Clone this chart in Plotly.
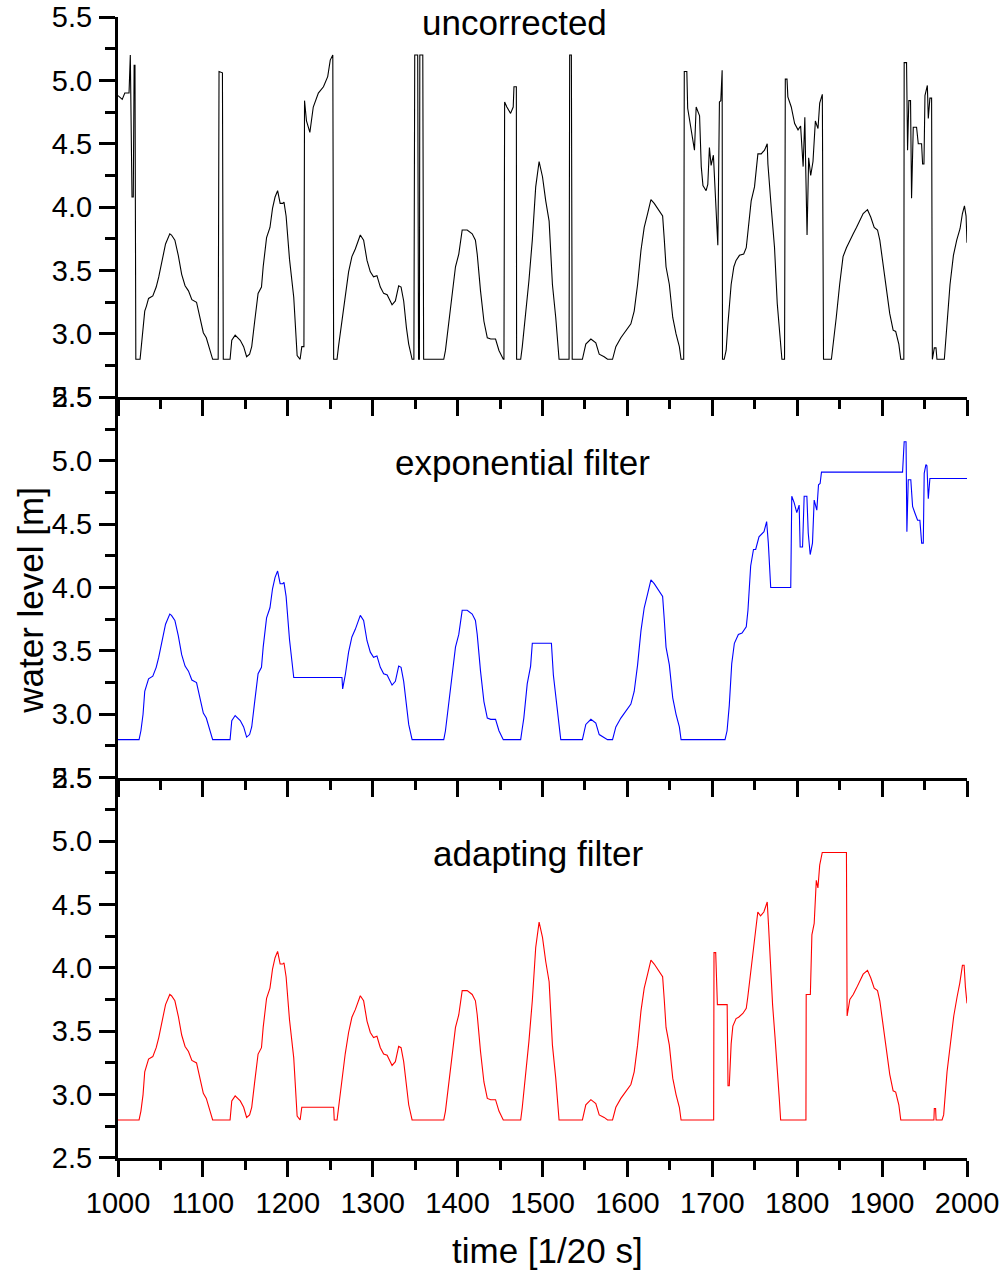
import plotly.graph_objects as go
from plotly.subplots import make_subplots

# ---------------- data ----------------
panel_titles = ["uncorrected", "exponential filter", "adapting filter"]
x_label = "time [1/20 s]"
y_label = "water level [m]"

x_unc = [
    1000, 1005, 1008, 1013, 1014.5, 1016.5, 1018, 1019, 1020, 1021,
    1026, 1027, 1029.5, 1031.5, 1033.5, 1036, 1041, 1045, 1048, 1053,
    1056, 1061, 1063, 1067, 1071, 1075, 1079, 1083, 1087, 1092.5,
    1096.5, 1100.5, 1104, 1107.5, 1111.5, 1118, 1119, 1123, 1124, 1132,
    1134, 1138, 1144, 1148, 1151.5, 1155, 1157.5, 1161, 1165, 1169,
    1171, 1175, 1179, 1182, 1185, 1188, 1191, 1194, 1195.5, 1198,
    1202, 1207, 1211, 1214.5, 1216.5, 1219, 1219.7, 1222, 1226, 1230,
    1236, 1242, 1247, 1250, 1253, 1254, 1258, 1259.7, 1263.7, 1267.6,
    1271.6, 1275.5, 1279.5, 1285.4, 1289.3, 1293.3, 1297.2, 1301, 1305, 1309,
    1312.9, 1317, 1322.8, 1326.7, 1330.6, 1333.4, 1336.5, 1339.7, 1342.4, 1346.4,
    1348.5, 1349.5, 1353, 1354, 1355, 1355.5, 1359, 1360, 1383.7, 1385.7,
    1389.6, 1393.6, 1397.5, 1401.4, 1405.4, 1411.3, 1417.2, 1421, 1423.1, 1427,
    1431, 1435, 1439, 1444.7, 1448.7, 1453.8, 1454.6, 1455.4, 1458, 1462.4,
    1465.5, 1466.4, 1469.2, 1469.5, 1474.3, 1476.2, 1480.2, 1484, 1488, 1492,
    1496, 1500, 1503.8, 1507.8, 1511.7, 1515.6, 1519.5, 1531.3, 1532, 1534,
    1535, 1547, 1551, 1557, 1562.8, 1566.8, 1572.6, 1576.6, 1582.5, 1586.4,
    1592.3, 1598.2, 1604.1, 1608, 1612, 1616, 1619.8, 1623.8, 1627.7, 1631.6,
    1637.5, 1641.5, 1643.5, 1645.5, 1649.4, 1653.4, 1657.3, 1661.2, 1663.2, 1666.3,
    1667, 1670, 1671, 1674.2, 1677, 1679, 1681, 1685, 1687, 1689,
    1692.7, 1694.7, 1696.6, 1698.6, 1701.3, 1703.3, 1706.5, 1708.4, 1710, 1711.6,
    1712, 1714, 1716.3, 1718.3, 1722.2, 1725.4, 1728, 1732, 1737, 1740,
    1741.9, 1745.8, 1749.7, 1753.7, 1757.6, 1761.5, 1764.7, 1765.5, 1769.4, 1773.3,
    1776.5, 1780.4, 1782, 1785.1, 1786, 1788, 1789, 1793, 1797, 1801,
    1804, 1807, 1809, 1810, 1811.6, 1813.5, 1815.9, 1818.6, 1821.4, 1824.5,
    1826.5, 1829.6, 1831, 1840.3, 1842.2, 1846, 1850, 1854, 1858, 1862,
    1866, 1869.8, 1873.7, 1877.7, 1882.8, 1886.7, 1890.7, 1894.6, 1897.3, 1901.3,
    1905.2, 1909, 1913, 1916, 1919.7, 1922, 1925.6, 1926, 1928.8, 1930,
    1931.5, 1933.5, 1934.7, 1936.7, 1940.6, 1942.6, 1946.5, 1947.7, 1949.3, 1950.5,
    1953.3, 1954.4, 1956.3, 1958.3, 1959.2, 1961.5, 1963.5, 1964.6, 1973.3, 1975,
    1977.2, 1980, 1984, 1987.9, 1991.8, 1994.6, 1997, 1998.9, 2000,
]
y_unc = [
    4.88, 4.85, 4.90, 4.90, 5.20, 4.08, 4.08, 5.12, 5.12, 2.80,
    2.80, 2.87, 3.00, 3.18, 3.22, 3.28, 3.30, 3.37, 3.45, 3.62,
    3.71, 3.79, 3.78, 3.74, 3.62, 3.47, 3.38, 3.34, 3.27, 3.25,
    3.13, 3.01, 2.97, 2.89, 2.80, 2.80, 5.07, 5.06, 2.80, 2.80,
    2.95, 2.99, 2.95, 2.90, 2.82, 2.84, 2.90, 3.10, 3.32, 3.37,
    3.53, 3.76, 3.84, 3.99, 4.08, 4.13, 4.03, 4.03, 4.04, 3.93,
    3.59, 3.29, 2.83, 2.80, 2.90, 2.90, 4.84, 4.68, 4.59, 4.79,
    4.90, 4.95, 5.03, 5.16, 5.20, 2.80, 2.80, 2.90, 3.10, 3.32,
    3.49, 3.61, 3.67, 3.78, 3.74, 3.58, 3.49, 3.45, 3.46, 3.37,
    3.32, 3.31, 3.23, 3.26, 3.38, 3.37, 3.26, 3.05, 2.92, 2.80,
    2.80, 5.20, 5.20, 2.80, 2.80, 5.20, 5.20, 2.80, 2.80, 2.87,
    3.10, 3.34, 3.53, 3.63, 3.82, 3.82, 3.79, 3.74, 3.63, 3.34,
    3.10, 2.97, 2.96, 2.96, 2.87, 2.80, 2.80, 4.83, 4.79, 4.74,
    4.79, 4.95, 4.95, 2.80, 2.80, 2.90, 3.16, 3.42, 3.74, 4.16,
    4.36, 4.24, 4.05, 3.89, 3.39, 3.13, 2.80, 2.80, 5.20, 5.20,
    2.80, 2.80, 2.92, 2.96, 2.93, 2.84, 2.82, 2.80, 2.80, 2.90,
    2.97, 3.03, 3.08, 3.18, 3.39, 3.66, 3.84, 3.95, 4.06, 4.03,
    3.97, 3.93, 3.74, 3.53, 3.39, 3.13, 3.00, 2.90, 2.80, 2.80,
    5.07, 5.07, 4.78, 4.66, 4.55, 4.45, 4.79, 4.72, 4.32, 4.17,
    4.13, 4.18, 4.47, 4.33, 4.41, 4.10, 3.70, 4.83, 4.84, 5.08,
    2.80, 2.80, 2.87, 3.07, 3.39, 3.53, 3.58, 3.62, 3.63, 3.68,
    3.79, 4.05, 4.16, 4.42, 4.42, 4.45, 4.50, 4.34, 4.00, 3.68,
    3.24, 2.92, 2.80, 2.80, 5.01, 5.01, 4.87, 4.79, 4.66, 4.61,
    4.64, 4.32, 4.71, 4.32, 3.78, 4.39, 4.25, 4.36, 4.68, 4.62,
    4.82, 4.89, 2.80, 2.80, 2.90, 3.13, 3.39, 3.61, 3.68, 3.74,
    3.79, 3.84, 3.89, 3.95, 3.98, 3.92, 3.84, 3.82, 3.74, 3.54,
    3.32, 3.16, 3.03, 3.02, 2.92, 2.80, 2.80, 5.14, 5.14, 4.45,
    4.84, 4.84, 4.07, 4.63, 4.63, 4.50, 4.50, 4.34, 4.34, 4.88,
    4.96, 4.70, 4.86, 4.86, 2.80, 2.89, 2.89, 2.80, 2.80, 2.97,
    3.17, 3.39, 3.62, 3.74, 3.83, 3.95, 4.01, 3.93, 3.72,
]

x_exp = [
    1000, 1024.8, 1027, 1029.5, 1031.5, 1033.5, 1036, 1041, 1045, 1048,
    1053, 1056, 1061, 1063, 1067, 1071, 1075, 1079, 1083, 1087,
    1092.5, 1096.5, 1100.5, 1104, 1107.5, 1111.5, 1132, 1134, 1138, 1144,
    1148, 1151.5, 1155, 1157.5, 1161, 1165, 1169, 1171, 1175, 1179,
    1182, 1185, 1188, 1191, 1194, 1195.5, 1198, 1202, 1207, 1263.8,
    1264.6, 1267.7, 1271.6, 1275.5, 1279.5, 1285.4, 1289.3, 1293.3, 1297.2, 1301,
    1305, 1309, 1312.9, 1317, 1322.8, 1326.7, 1330.6, 1333.4, 1336.5, 1339.7,
    1342.4, 1346.4, 1383.7, 1385.7, 1389.6, 1393.6, 1397.5, 1401.4, 1405.4, 1411.3,
    1417.2, 1421, 1423.1, 1427, 1431, 1435, 1439, 1444.7, 1448.7, 1453.8,
    1474.3, 1476, 1478, 1482, 1486, 1488, 1510.5, 1512.8, 1515.6, 1518.3,
    1521.5, 1547, 1551, 1557, 1562.8, 1566.8, 1572.6, 1576.6, 1582.5, 1586.4,
    1592.3, 1598.2, 1604.1, 1608, 1612, 1616, 1619.8, 1623.8, 1627.7, 1631.6,
    1637.5, 1641.5, 1643.5, 1645.5, 1649.4, 1653.4, 1657.3, 1661.2, 1663.2, 1715,
    1717.4, 1720, 1722.9, 1726, 1730.7, 1735, 1740, 1742, 1745.2, 1748.5,
    1751.1, 1755, 1760.9, 1764, 1766, 1768.8, 1792.4, 1793.6, 1796.4, 1799.5,
    1802.3, 1803.5, 1806.3, 1808.2, 1811.4, 1813, 1815.3, 1818, 1820, 1823.1,
    1825.1, 1827, 1828.6, 1924.1, 1926, 1928.2, 1929.2, 1930.8, 1933.8, 1935.9,
    1938.5, 1941.8, 1944.5, 1946.6, 1948.5, 1949.6, 1951.6, 1952.8, 1954.4, 1956.3,
    2000,
]
y_exp = [
    2.80, 2.80, 2.87, 3.00, 3.18, 3.22, 3.28, 3.30, 3.37, 3.45,
    3.62, 3.71, 3.79, 3.78, 3.74, 3.62, 3.47, 3.38, 3.34, 3.27,
    3.25, 3.13, 3.01, 2.97, 2.89, 2.80, 2.80, 2.95, 2.99, 2.95,
    2.90, 2.82, 2.84, 2.90, 3.10, 3.32, 3.37, 3.53, 3.76, 3.84,
    3.99, 4.08, 4.13, 4.03, 4.03, 4.04, 3.93, 3.59, 3.29, 3.29,
    3.20, 3.31, 3.49, 3.61, 3.67, 3.78, 3.74, 3.58, 3.49, 3.45,
    3.46, 3.37, 3.32, 3.31, 3.23, 3.26, 3.38, 3.37, 3.26, 3.05,
    2.92, 2.80, 2.80, 2.87, 3.10, 3.34, 3.53, 3.63, 3.82, 3.82,
    3.79, 3.74, 3.63, 3.34, 3.10, 2.97, 2.96, 2.96, 2.87, 2.80,
    2.80, 2.88, 2.97, 3.24, 3.38, 3.56, 3.56, 3.31, 3.14, 2.97,
    2.80, 2.80, 2.92, 2.96, 2.93, 2.84, 2.82, 2.80, 2.80, 2.90,
    2.97, 3.03, 3.08, 3.18, 3.39, 3.66, 3.84, 3.95, 4.06, 4.03,
    3.97, 3.93, 3.74, 3.53, 3.39, 3.13, 3.00, 2.90, 2.80, 2.80,
    2.87, 3.07, 3.40, 3.56, 3.63, 3.64, 3.69, 3.82, 4.17, 4.30,
    4.30, 4.40, 4.44, 4.52, 4.35, 4.00, 4.00, 4.72, 4.67, 4.59,
    4.65, 4.32, 4.32, 4.72, 4.72, 4.43, 4.26, 4.35, 4.69, 4.61,
    4.81, 4.82, 4.91, 4.91, 5.15, 5.15, 4.44, 4.85, 4.85, 4.64,
    4.59, 4.53, 4.53, 4.35, 4.35, 4.90, 4.97, 4.96, 4.70, 4.86,
    4.86,
]

x_ada = [
    1000, 1024.8, 1027, 1029.5, 1031.5, 1033.5, 1036, 1041, 1045, 1048,
    1053, 1056, 1061, 1063, 1067, 1071, 1075, 1079, 1083, 1087,
    1092.5, 1096.5, 1100.5, 1104, 1107.5, 1111.5, 1132, 1134, 1138, 1144,
    1148, 1151.5, 1155, 1157.5, 1161, 1165, 1169, 1171, 1175, 1179,
    1182, 1185, 1188, 1191, 1194, 1195.5, 1198, 1202, 1207, 1211,
    1214.5, 1216.5, 1254, 1254.7, 1258, 1259.7, 1263.7, 1267.6, 1271.6, 1275.5,
    1279.5, 1285.4, 1289.3, 1293.3, 1297.2, 1301, 1305, 1309, 1312.9, 1317,
    1322.8, 1326.7, 1330.6, 1333.4, 1336.5, 1339.7, 1342.4, 1346.4, 1383.7, 1385.7,
    1389.6, 1393.6, 1397.5, 1401.4, 1405.4, 1411.3, 1417.2, 1421, 1423.1, 1427,
    1431, 1435, 1439, 1444.7, 1448.7, 1453.8, 1474.3, 1476.2, 1480.2, 1484,
    1488, 1492, 1496, 1500, 1503.8, 1507.8, 1511.7, 1515.6, 1519.5, 1547,
    1551, 1557, 1562.8, 1566.8, 1572.6, 1576.6, 1582.5, 1586.4, 1592.3, 1598.2,
    1604.1, 1608, 1612, 1616, 1619.8, 1623.8, 1627.7, 1631.6, 1637.5, 1641.5,
    1643.5, 1645.5, 1649.4, 1653.4, 1657.3, 1661.2, 1663.2, 1701.6, 1702, 1704,
    1706, 1717.5, 1718.5, 1720, 1722.2, 1724.2, 1728, 1731, 1736, 1740,
    1741.8, 1743.8, 1746.5, 1748.9, 1751.5, 1753.6, 1756.8, 1760.7, 1762.7, 1764.7,
    1766.2, 1768.5, 1771, 1773.8, 1776.5, 1779, 1780.5, 1810.3, 1810.6, 1815.5,
    1817.3, 1820, 1822.5, 1824.4, 1826.5, 1828.5, 1829.5, 1858, 1858.8, 1862,
    1866, 1869.8, 1873.7, 1877.7, 1882.8, 1886.7, 1890.7, 1894.6, 1897.3, 1901.3,
    1905.2, 1909, 1913, 1916, 1919.7, 1922, 1961, 1961.5, 1963, 1963.6,
    1970.6, 1972.5, 1976.5, 1980.5, 1984.4, 1988.3, 1991.5, 1994.6, 1996.6, 1998.1,
    2000,
]
y_ada = [
    2.80, 2.80, 2.87, 3.00, 3.18, 3.22, 3.28, 3.30, 3.37, 3.45,
    3.62, 3.71, 3.79, 3.78, 3.74, 3.62, 3.47, 3.38, 3.34, 3.27,
    3.25, 3.13, 3.01, 2.97, 2.89, 2.80, 2.80, 2.95, 2.99, 2.95,
    2.90, 2.82, 2.84, 2.90, 3.10, 3.32, 3.37, 3.53, 3.76, 3.84,
    3.99, 4.08, 4.13, 4.03, 4.03, 4.04, 3.93, 3.59, 3.29, 2.83,
    2.80, 2.90, 2.90, 2.80, 2.80, 2.90, 3.10, 3.32, 3.49, 3.61,
    3.67, 3.78, 3.74, 3.58, 3.49, 3.45, 3.46, 3.37, 3.32, 3.31,
    3.23, 3.26, 3.38, 3.37, 3.26, 3.05, 2.92, 2.80, 2.80, 2.87,
    3.10, 3.34, 3.53, 3.63, 3.82, 3.82, 3.79, 3.74, 3.63, 3.34,
    3.10, 2.97, 2.96, 2.96, 2.87, 2.80, 2.80, 2.90, 3.16, 3.42,
    3.74, 4.16, 4.36, 4.24, 4.05, 3.89, 3.39, 3.13, 2.80, 2.80,
    2.92, 2.96, 2.93, 2.84, 2.82, 2.80, 2.80, 2.90, 2.97, 3.03,
    3.08, 3.18, 3.39, 3.66, 3.84, 3.95, 4.06, 4.03, 3.97, 3.93,
    3.74, 3.53, 3.39, 3.13, 3.00, 2.90, 2.80, 2.80, 4.12, 4.12,
    3.71, 3.71, 3.07, 3.07, 3.40, 3.54, 3.60, 3.61, 3.64, 3.68,
    3.77, 3.89, 4.04, 4.16, 4.30, 4.44, 4.41, 4.44, 4.48, 4.52,
    4.34, 3.98, 3.71, 3.46, 3.23, 2.96, 2.80, 2.80, 3.79, 3.79,
    4.26, 4.35, 4.69, 4.63, 4.81, 4.90, 4.91, 4.91, 3.62, 3.75,
    3.79, 3.84, 3.89, 3.95, 3.98, 3.92, 3.84, 3.82, 3.74, 3.54,
    3.32, 3.16, 3.03, 3.02, 2.92, 2.80, 2.80, 2.89, 2.89, 2.80,
    2.80, 2.84, 3.18, 3.40, 3.62, 3.77, 3.88, 4.02, 4.02, 3.85,
    3.72,
]

series = [(x_unc, y_unc, "black"), (x_exp, y_exp, "#0000ff"), (x_ada, y_ada, "#ff0000")]

# ---------------- figure ----------------
FONT = "Liberation Sans, Arial, Helvetica, sans-serif"
fig = make_subplots(rows=3, cols=1, shared_xaxes=True, vertical_spacing=0)

for i, (xs, ys, col) in enumerate(series, start=1):
    fig.add_trace(go.Scatter(x=xs, y=ys, mode="lines",
                             line=dict(color=col, width=1.1),
                             showlegend=False, hoverinfo="skip"),
                  row=i, col=1)

tick_font = dict(family=FONT, size=29, color="black")
for i in range(1, 4):
    fig.update_xaxes(range=[1000, 2000], tick0=1000, dtick=100,
                     showline=True, linecolor="black", linewidth=3,
                     ticks="outside", ticklen=16, tickwidth=3, tickcolor="black",
                     minor=dict(dtick=50, ticklen=9, tickwidth=3,
                                tickcolor="black", ticks="outside"),
                     showgrid=False, zeroline=False, tickfont=tick_font,
                     ticklabelstandoff=1, automargin=False,
                     row=i, col=1)
    fig.update_yaxes(range=[2.5, 5.5], tick0=2.5, dtick=0.5, tickformat=".1f",
                     showline=True, linecolor="black", linewidth=3,
                     ticks="outside", ticklen=16, tickwidth=3, tickcolor="black",
                     minor=dict(dtick=0.25, ticklen=10, tickwidth=3,
                                tickcolor="black", ticks="outside"),
                     showgrid=False, zeroline=False, tickfont=tick_font,
                     ticklabelstandoff=1, automargin=False,
                     row=i, col=1)

title_font = dict(family=FONT, size=35, color="black")
title_pos = [(1467, 5.46), (1477, 4.985), (1494.5, 4.9)]
for i, (txt, (tx, ty)) in enumerate(zip(panel_titles, title_pos), start=1):
    fig.add_annotation(text=txt, x=tx, y=ty,
                       xref="x" if i == 1 else f"x{i}",
                       yref="y" if i == 1 else f"y{i}",
                       showarrow=False, font=title_font,
                       xanchor="center", yanchor="middle")

fig.add_annotation(text=x_label, xref="paper", yref="paper", x=0.506, y=-0.081,
                   showarrow=False, font=title_font, xanchor="center", yanchor="middle")
fig.add_annotation(text=y_label, xref="paper", yref="paper", x=-0.104, y=0.489,
                   showarrow=False, font=title_font, textangle=-90,
                   xanchor="center", yanchor="middle")

fig.update_layout(width=1002, height=1271,
                  margin=dict(l=118, r=35, t=17, b=113, autoexpand=False),
                  paper_bgcolor="white", plot_bgcolor="white",
                  showlegend=False)

fig.write_html("out.html")
